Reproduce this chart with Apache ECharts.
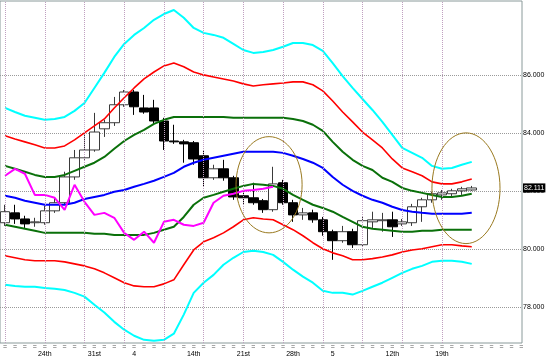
<!DOCTYPE html>
<html><head><meta charset="utf-8">
<script src="https://cdn.jsdelivr.net/npm/echarts@6.0.0/dist/echarts.min.js"></script>
<style>html,body{margin:0;padding:0;background:#fff}#c{width:549px;height:360px}</style>
</head><body><div id="c"></div>
<script>
// ---- data ----
const slotCount = 53;
const tickLabels = ['24th','31st','4','14th','21st','28th','5','12th','19th'];
const tickSlots = [4,9,13,19,24,29,33,39,44];
const gridSlots = [0,4,8,12,16,20,24,28,32,36,40,44];
const priceTicks = [78,80,82,84,86];
const lastPrice = 82.111;

const opens  = [80.91,81.25,81.04,80.91,80.91,81.32,81.60,82.49,83.15,83.42,84.15,84.36,84.98,85.42,84.87,84.87,84.42,83.73,83.70,83.67,83.22,82.46,82.77,82.46,81.84,81.77,81.67,81.36,82.29,81.60,81.18,81.25,81.01,80.60,80.29,80.60,80.15,80.94,80.98,81.01,80.87,80.91,81.46,81.70,81.87,81.91,82.01,82.04];
const closes = [81.29,81.04,80.87,80.94,81.32,81.60,82.49,83.15,83.42,84.04,84.36,84.98,85.42,84.91,84.73,84.42,83.73,83.70,83.63,83.11,82.46,82.77,82.46,81.80,81.77,81.60,81.36,82.25,81.60,81.18,81.25,81.01,80.60,80.29,80.60,80.15,80.98,81.01,81.01,80.77,80.94,81.46,81.70,81.91,81.94,82.01,82.08,82.11];
const lows   = [80.80,80.87,80.73,80.77,80.84,81.25,81.53,82.39,83.08,83.36,83.87,84.25,84.91,84.63,84.67,84.32,83.42,83.63,82.98,82.91,82.15,82.39,82.36,81.70,81.56,81.53,81.25,81.29,81.53,80.94,81.01,80.91,80.46,79.63,80.22,80.04,80.08,80.73,80.60,80.42,80.80,80.80,80.94,81.60,81.70,81.77,81.87,82.01];
const highs  = [81.53,81.53,81.15,81.08,81.49,81.77,82.67,83.42,84.04,84.70,84.46,85.25,85.49,85.49,85.32,85.15,84.53,84.29,83.77,83.73,83.42,82.91,83.08,82.53,82.04,82.29,81.73,82.84,82.39,81.70,81.42,81.36,81.11,80.67,80.80,80.70,81.11,81.29,81.25,81.29,81.04,81.56,81.77,81.98,82.04,82.08,82.15,82.18];

const midBand = [81.84,81.77,81.67,81.60,81.53,81.53,81.53,81.60,81.73,81.80,81.87,81.98,82.04,82.15,82.25,82.36,82.49,82.63,82.84,82.98,83.08,83.15,83.22,83.29,83.36,83.36,83.36,83.36,83.32,83.22,83.11,82.98,82.80,82.49,82.22,82.01,81.84,81.70,81.60,81.46,81.35,81.29,81.25,81.22,81.22,81.22,81.22,81.25];
const upper1 = [82.87,82.77,82.67,82.56,82.49,82.49,82.56,82.70,82.84,82.98,83.18,83.46,83.73,83.94,84.11,84.32,84.46,84.56,84.56,84.56,84.56,84.56,84.56,84.53,84.53,84.53,84.53,84.53,84.53,84.49,84.42,84.29,84.08,83.70,83.36,83.08,82.87,82.73,82.46,82.32,82.11,82.01,81.94,81.87,81.80,81.80,81.84,81.91];
const lower1 = [80.84,80.77,80.70,80.63,80.56,80.56,80.56,80.56,80.56,80.53,80.53,80.49,80.49,80.49,80.49,80.56,80.67,80.77,81.11,81.53,81.77,81.87,81.98,82.08,82.18,82.25,82.22,82.18,82.08,81.87,81.70,81.53,81.42,81.29,81.11,80.94,80.77,80.70,80.67,80.63,80.60,80.60,80.63,80.63,80.67,80.67,80.67,80.67];
const upper2 = [83.91,83.80,83.70,83.60,83.49,83.49,83.56,83.77,84.01,84.25,84.49,84.87,85.22,85.56,85.87,86.11,86.32,86.42,86.29,86.11,86.01,85.94,85.87,85.80,85.70,85.63,85.67,85.70,85.73,85.77,85.77,85.67,85.46,85.11,84.73,84.39,84.04,83.77,83.49,83.11,82.80,82.67,82.53,82.32,82.25,82.25,82.32,82.42];
const lower2 = [79.77,79.70,79.63,79.60,79.60,79.60,79.56,79.49,79.42,79.32,79.18,79.01,78.84,78.73,78.70,78.70,78.80,78.94,79.46,79.97,80.25,80.39,80.56,80.77,81.01,81.08,81.04,81.01,80.84,80.67,80.46,80.22,80.01,79.87,79.77,79.63,79.63,79.67,79.73,79.80,79.90,79.97,80.01,80.08,80.15,80.15,80.11,80.08];
const upper3 = [84.87,84.73,84.60,84.53,84.46,84.49,84.56,84.77,85.04,85.56,86.08,86.63,87.08,87.39,87.63,87.91,88.11,88.25,87.98,87.63,87.46,87.39,87.29,87.08,86.87,86.77,86.80,86.87,86.98,87.11,87.11,87.04,86.84,86.42,85.97,85.56,85.18,84.80,84.39,83.94,83.49,83.32,83.15,82.87,82.77,82.80,82.91,83.01];
const lower3 = [78.77,78.73,78.70,78.70,78.66,78.63,78.59,78.49,78.36,78.08,77.81,77.49,77.22,77.01,76.87,76.84,76.87,77.08,77.74,78.49,78.84,79.11,79.46,79.70,79.90,79.94,79.90,79.80,79.56,79.29,79.05,78.84,78.56,78.49,78.49,78.43,78.56,78.70,78.84,79.01,79.18,79.32,79.42,79.56,79.60,79.60,79.56,79.49];
const lagging = [82.53,82.77,82.60,81.87,81.87,81.77,81.35,82.22,81.63,81.18,81.25,81.08,80.56,80.32,80.60,80.22,80.94,81.01,80.84,80.80,80.91,81.60,81.84,81.91,82.01,82.04,82.08,82.15];

// annotation ellipses: [centre slot, centre price, radius in slots, radius in price]
const ellipseCx = [26.64, 46.43];
const ellipseCy = [82.22, 82.10];
const ellipseRx = [3.32, 3.42];
const ellipseRy = [1.66, 1.91];

// ---- chart ----
const cats = Array.from({length: slotCount}, (_, i) => String(i));
const labelAt = {};
tickSlots.forEach((s, k) => { labelAt[s] = tickLabels[k]; });
const ohlc = opens.map((o, i) => [o, closes[i], lows[i], highs[i]]);
const ellipseData = ellipseCx.map((c, i) => [c, ellipseCy[i], ellipseRx[i], ellipseRy[i]]);
const yMin = 76.76, yMax = 88.56;
const FONT = 'Liberation Sans';

function band(data, color, width) {
  return {type:'line', xAxisIndex:0, yAxisIndex:0, data:data, symbol:'none', silent:true, z:3,
    lineStyle:{color:color, width:width}};
}

const chart = echarts.init(document.getElementById('c'));
chart.setOption({
  animation:false,
  backgroundColor:'#ffffff',
  textStyle:{fontFamily:FONT},
  grid:[
    {left:-1, top:1, width:slotCount*9.95, height:342, show:false},
    {left:0, top:1, width:522, height:342, show:true, borderColor:'#8a9a9a', borderWidth:1, backgroundColor:'transparent'}
  ],
  xAxis:[
    {gridIndex:0, type:'category', data:cats, boundaryGap:true,
     axisLine:{show:false}, axisTick:{show:false}, splitLine:{show:false},
     axisLabel:{interval:0, margin:1,
       formatter:(v, i) => labelAt[i] ? '{eq|=}\n{d|' + labelAt[i] + '}' : '{eq|=}',
       rich:{eq:{fontSize:7, lineHeight:6, color:'#555', fontFamily:FONT},
             d:{fontSize:7, lineHeight:9, color:'#000', fontFamily:FONT}}}},
    {gridIndex:1, type:'value', min:-0.4, max:52.06, show:false}
  ],
  yAxis:[
    {gridIndex:0, type:'value', min:yMin, max:yMax, show:false},
    {gridIndex:1, type:'value', min:yMin, max:yMax, position:'right',
     axisLine:{show:false},
     axisTick:{show:false, customValues:priceTicks},
     axisLabel:{customValues:priceTicks.concat([lastPrice]), margin:1, fontSize:7, color:'#000',
       formatter:v => Math.abs(v - lastPrice) < 1e-6 ? '{last|' + v.toFixed(3) + '}' : v.toFixed(3),
       rich:{last:{backgroundColor:'#000', color:'#fff', fontSize:7, padding:[1,1,1,1], fontFamily:FONT}}},
     splitLine:{show:true, lineStyle:{type:'dotted', color:'#9a9a9a', width:1}}}
  ],
  series:[
    {type:'candlestick', xAxisIndex:0, yAxisIndex:0, data:ohlc, barWidth:10, z:2, silent:true,
     itemStyle:{color:'#ffffff', color0:'#000000', borderColor:'#3a3a3a', borderColor0:'#000000', borderWidth:1},
     markLine:{silent:true, symbol:['none','none'], label:{show:false},
       lineStyle:{type:'dotted', color:'#c0a0c0', width:1},
       data:gridSlots.map(s => ({xAxis:s}))}},
    band(upper3, '#00ffff', 2),
    band(lower3, '#00ffff', 2),
    band(upper2, '#ff0000', 1.6),
    band(lower2, '#ff0000', 1.6),
    band(upper1, '#0a700a', 2),
    band(lower1, '#0a700a', 2),
    band(midBand, '#0000ff', 2),
    band(lagging, '#ff00ff', 2),
    {type:'custom', xAxisIndex:1, yAxisIndex:1, data:ellipseData, z:5, silent:true, clip:false,
     renderItem:(params, api) => {
       const c = api.coord([api.value(0), api.value(1)]);
       const s = api.size([api.value(2), api.value(3)]);
       return {type:'ellipse', shape:{cx:c[0], cy:c[1], rx:s[0], ry:s[1]},
               style:{fill:null, stroke:'#9a7a20', lineWidth:1}};
     }}
  ]
});
</script>
</body></html>
